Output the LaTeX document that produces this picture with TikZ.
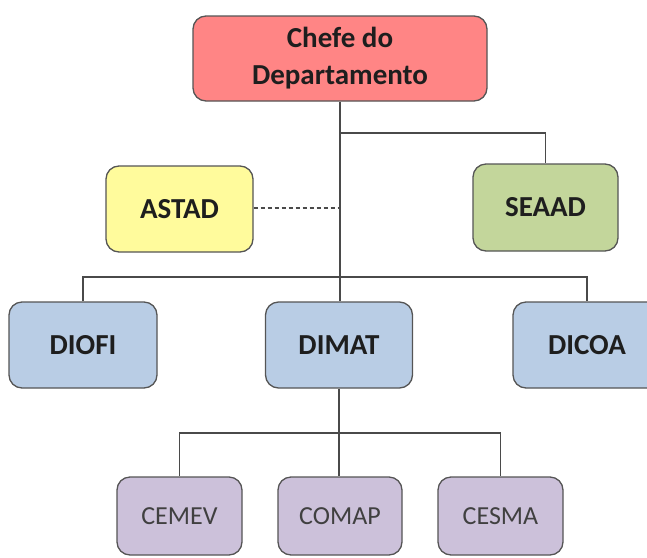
\documentclass[tikz,border=0pt]{standalone}
\usepackage{fontspec}
\setmainfont{Carlito}
\definecolor{chefefill}{HTML}{FF8585}
\definecolor{astadfill}{HTML}{FFFB9C}
\definecolor{seaadfill}{HTML}{C3D69B}
\definecolor{divfill}{HTML}{B9CDE5}
\definecolor{cenfill}{HTML}{CCC1DA}
\definecolor{edge}{HTML}{555555}
\definecolor{wire}{HTML}{4A4A4A}
\definecolor{ink}{HTML}{1E1E1E}
\tikzset{
  unit/.style={draw=edge, line width=1.3pt, rounded corners=13pt, inner sep=0pt,
    text=ink, font=\fontsize{29}{37}\selectfont\bfseries, align=center},
  centre/.style={unit, font=\fontsize{26}{31}\selectfont, text=ink!85},
  link/.style={draw=wire, line width=1.5pt},
  aide/.style={draw=wire, line width=1.5pt, dash pattern=on 4pt off 3pt}
}
\begin{document}
\begin{tikzpicture}[x=1pt, y=-1pt]
  \useasboundingbox (0,0) rectangle (647,557);
  \begin{scope}
    \clip (0,0) rectangle (647,557);
    % top level
    \node[unit, fill=chefefill, minimum width=294pt, minimum height=85pt] (chefe) at (340,58.5) {Chefe do\\Departamento};
    % staff units
    \node[unit, fill=astadfill, minimum width=147pt, minimum height=86pt] (astad) at (179.5,209) {ASTAD};
    \node[unit, fill=seaadfill, minimum width=145pt, minimum height=87pt] (seaad) at (545.5,207.5) {SEAAD};
    % divisions
    \node[unit, fill=divfill, minimum width=148pt, minimum height=86pt] (diofi) at (83,345) {DIOFI};
    \node[unit, fill=divfill, minimum width=147pt, minimum height=86pt] (dimat) at (339,345) {DIMAT};
    \node[unit, fill=divfill, minimum width=148pt, minimum height=86pt] (dicoa) at (587,345) {DICOA};
    % centres under DIMAT
    \node[centre, fill=cenfill, minimum width=125pt, minimum height=78pt] (cemev) at (179.5,516) {CEMEV};
    \node[centre, fill=cenfill, minimum width=124pt, minimum height=78pt] (comap) at (340,516) {COMAP};
    \node[centre, fill=cenfill, minimum width=125pt, minimum height=78pt] (cesma) at (500.5,516) {CESMA};

    % junction points
    \coordinate (j1) at (340,133);
    \coordinate (j2) at (340,208);
    \coordinate (j3) at (340,277);
    \coordinate (j4) at (339,433);

    % connectors
    \draw[link] (chefe.south -| j1) -- (j3);
    \draw[link] (j1) -- (j1 -| seaad.north) -- (seaad.north);
    \draw[aide] (astad.east |- j2) -- (j2);
    \draw[link] (diofi.north) -- (diofi.north |- j3) -- (dicoa.north |- j3) -- (dicoa.north);
    \draw[link] (j3) -- (dimat.north -| j3);
    \draw[link] (dimat.south) -- (j4);
    \draw[link] (cemev.north) -- (cemev.north |- j4) -- (cesma.north |- j4) -- (cesma.north);
    \draw[link] (j4) -- (comap.north -| j4);
  \end{scope}
\end{tikzpicture}
\end{document}
